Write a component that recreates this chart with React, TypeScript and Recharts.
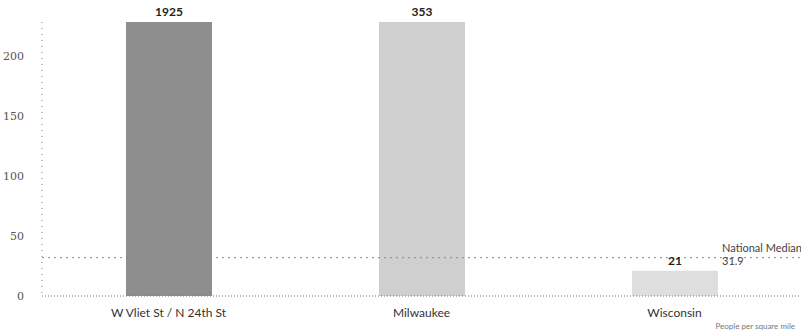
import React from "react";
import { BarChart, Bar, XAxis, YAxis, ReferenceLine, LabelList, Cell } from "recharts";

const categories = ["W Vliet St / N 24th St", "Milwaukee", "Wisconsin"];
const values = [1925, 353, 21];
const barColors = ["#8e8e8e", "#cfcfcf", "#dedede"];
const yTicks = [0, 50, 100, 150, 200];
const nationalMedian = 31.9;
const medianLabel = "National Median";
const unitNote = "People per square mile";

const data = categories.map((name, i) => ({ name, value: values[i] }));

const TOP = 22;
const W = 801;
const H = 333;

const ValueLabel = (props: any) => {
  const { x, y, width, value } = props;
  const ty = Math.max(y, TOP) - 6;
  return (
    <text
      x={x + width / 2}
      y={ty}
      textAnchor="middle"
      fontFamily="Lato, sans-serif"
      fontWeight={700}
      fontSize={12}
      fill="#222"
    >
      {value}
    </text>
  );
};

const MedianLabel = (props: any) => {
  const vb = props.viewBox || {};
  const x = vb.x + vb.width - 79;
  const y = vb.y;
  return (
    <g fontFamily="Lato, sans-serif" fontSize={11} fill="#444">
      <text x={x} y={y - 6}>{medianLabel}</text>
      <text x={x} y={y + 7}>{nationalMedian}</text>
    </g>
  );
};

export default function App() {
  return (
    <div style={{ position: "absolute", left: 0, top: 0, width: W, height: H, background: "#fff" }}>
      <BarChart
        width={W}
        height={H}
        data={data}
        margin={{ top: TOP, right: 0, bottom: 7, left: 0 }}
        barSize={86}
      >
        <XAxis
          dataKey="name"
          height={30}
          tickLine={false}
          axisLine={{ stroke: "#777", strokeDasharray: "1 2" }}
          tick={{ fontFamily: "Lato, sans-serif", fontSize: 12, fill: "#333" }}
          tickMargin={6}
        />
        <YAxis
          width={42}
          domain={[0, 228]}
          allowDataOverflow
          ticks={yTicks}
          tickLine={false}
          axisLine={{ stroke: "#888", strokeDasharray: "1 5" }}
          tick={{ fontFamily: "'DejaVu Serif', serif", fontSize: 11, fill: "#555" }}
          tickMargin={12}
        />
        <ReferenceLine
          y={nationalMedian}
          stroke="#888"
          strokeDasharray="2 4"
          label={<MedianLabel />}
        />
        <Bar dataKey="value" isAnimationActive={false}>
          {data.map((d, i) => (
            <Cell key={d.name} fill={barColors[i]} />
          ))}
          <LabelList dataKey="value" content={<ValueLabel />} />
        </Bar>
      </BarChart>
      <div
        style={{
          position: "absolute",
          right: 6,
          top: 321,
          fontFamily: "Lato, sans-serif",
          fontSize: 8,
          color: "#777",
          whiteSpace: "nowrap",
        }}
      >
        {unitNote}
      </div>
    </div>
  );
}
